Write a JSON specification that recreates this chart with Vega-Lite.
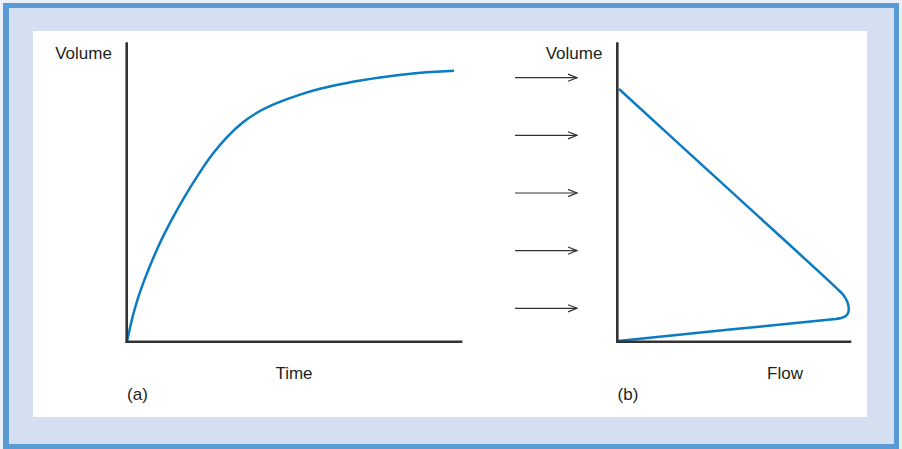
{
  "$schema": "https://vega.github.io/schema/vega-lite/v6.json",
  "width": 902,
  "height": 449,
  "autosize": {"type": "fit", "contains": "padding"},
  "padding": 0,
  "background": "#eaf0f8",
  "config": {"view": {"stroke": null}},
  "datasets": {
    "frame": [{"x": 3, "x2": 899, "y": 3, "y2": 449}],
    "inner": [{"x": 9, "x2": 894, "y": 8, "y2": 444}],
    "panel": [{"x": 33, "x2": 867, "y": 31, "y2": 417}],
    "axes": [
      {"x": 126.7, "x2": 126.7, "y": 43.5, "y2": 341.7},
      {"x": 126.7, "x2": 461, "y": 341.7, "y2": 341.7},
      {"x": 617.3, "x2": 617.3, "y": 43.5, "y2": 341.7},
      {"x": 617.3, "x2": 850, "y": 341.7, "y2": 341.7}
    ],
    "curveA": [
      {"i": 0, "x": 127, "y": 341.5},
      {"i": 1, "x": 132, "y": 319.2},
      {"i": 2, "x": 138, "y": 298.2},
      {"i": 3, "x": 148, "y": 270.7},
      {"i": 4, "x": 158, "y": 247.2},
      {"i": 5, "x": 172, "y": 219.2},
      {"i": 6, "x": 185, "y": 196.1},
      {"i": 7, "x": 200, "y": 172.1},
      {"i": 8, "x": 213, "y": 153.6},
      {"i": 9, "x": 227, "y": 137.1},
      {"i": 10, "x": 243, "y": 122.2},
      {"i": 11, "x": 260, "y": 111},
      {"i": 12, "x": 280, "y": 101.8},
      {"i": 13, "x": 300, "y": 94.6},
      {"i": 14, "x": 320, "y": 88.8},
      {"i": 15, "x": 347, "y": 82.9},
      {"i": 16, "x": 380, "y": 77.5},
      {"i": 17, "x": 413, "y": 73.5},
      {"i": 18, "x": 454, "y": 70.8}
    ],
    "curveB": [
      {"i": 0, "x": 619, "y": 89},
      {"i": 1, "x": 728, "y": 188.7},
      {"i": 2, "x": 836.7, "y": 288.3},
      {"i": 3, "x": 843.3, "y": 295},
      {"i": 4, "x": 847, "y": 301},
      {"i": 5, "x": 848.6, "y": 307},
      {"i": 6, "x": 848.2, "y": 312.8},
      {"i": 7, "x": 845.5, "y": 316.3},
      {"i": 8, "x": 840, "y": 318.3},
      {"i": 9, "x": 833, "y": 319.3},
      {"i": 10, "x": 725, "y": 330},
      {"i": 11, "x": 618, "y": 341}
    ],
    "arrows": [
      {"x": 515, "x2": 577, "y": 77.7},
      {"x": 515, "x2": 577, "y": 135.3},
      {"x": 515, "x2": 577, "y": 193},
      {"x": 515, "x2": 577, "y": 250.6},
      {"x": 515, "x2": 577, "y": 308.3}
    ],
    "labels": [
      {"x": 83.5, "y": 59, "text": "Volume"},
      {"x": 574, "y": 59, "text": "Volume"},
      {"x": 294, "y": 379, "text": "Time"},
      {"x": 785, "y": 378.5, "text": "Flow"},
      {"x": 137.5, "y": 400, "text": "(a)"},
      {"x": 628, "y": 400, "text": "(b)"}
    ]
  },
  "encoding": {
    "x": {"field": "x", "type": "quantitative", "scale": {"domain": [0, 902], "nice": false, "zero": false}, "axis": null},
    "y": {"field": "y", "type": "quantitative", "scale": {"domain": [0, 449], "nice": false, "zero": false, "reverse": true}, "axis": null}
  },
  "layer": [
    {"data": {"name": "frame"}, "mark": {"type": "rect", "color": "#5b9bd5"}, "encoding": {"x2": {"field": "x2"}, "y2": {"field": "y2"}}},
    {"data": {"name": "inner"}, "mark": {"type": "rect", "color": "#d4e0f2"}, "encoding": {"x2": {"field": "x2"}, "y2": {"field": "y2"}}},
    {"data": {"name": "panel"}, "mark": {"type": "rect", "color": "#ffffff"}, "encoding": {"x2": {"field": "x2"}, "y2": {"field": "y2"}}},
    {"data": {"name": "curveA"}, "mark": {"type": "line", "color": "#0b7bc2", "strokeWidth": 2.5, "interpolate": "monotone"}, "encoding": {"order": {"field": "i", "type": "quantitative"}}},
    {"data": {"name": "curveB"}, "mark": {"type": "line", "color": "#0b7bc2", "strokeWidth": 2.5, "interpolate": "catmull-rom"}, "encoding": {"order": {"field": "i", "type": "quantitative"}}},
    {"data": {"name": "axes"}, "mark": {"type": "rule", "color": "#333333", "strokeWidth": 2.6, "strokeCap": "square"}, "encoding": {"x2": {"field": "x2"}, "y2": {"field": "y2"}}},
    {"data": {"name": "arrows"}, "mark": {"type": "rule", "color": "#333333", "strokeWidth": 1.2}, "encoding": {"x2": {"field": "x2"}}},
    {"data": {"name": "arrows"}, "mark": {"type": "point", "shape": "M-1,-0.4L0,0L-1,0.4", "filled": false, "color": "#333333", "strokeWidth": 1.2, "opacity": 1, "size": 324}, "encoding": {"x": {"field": "x2", "type": "quantitative"}}},
    {"data": {"name": "labels"}, "mark": {"type": "text", "font": "Liberation Sans", "fontSize": 17, "color": "#231f20", "align": "center", "baseline": "alphabetic"}, "encoding": {"text": {"field": "text"}}}
  ]
}
